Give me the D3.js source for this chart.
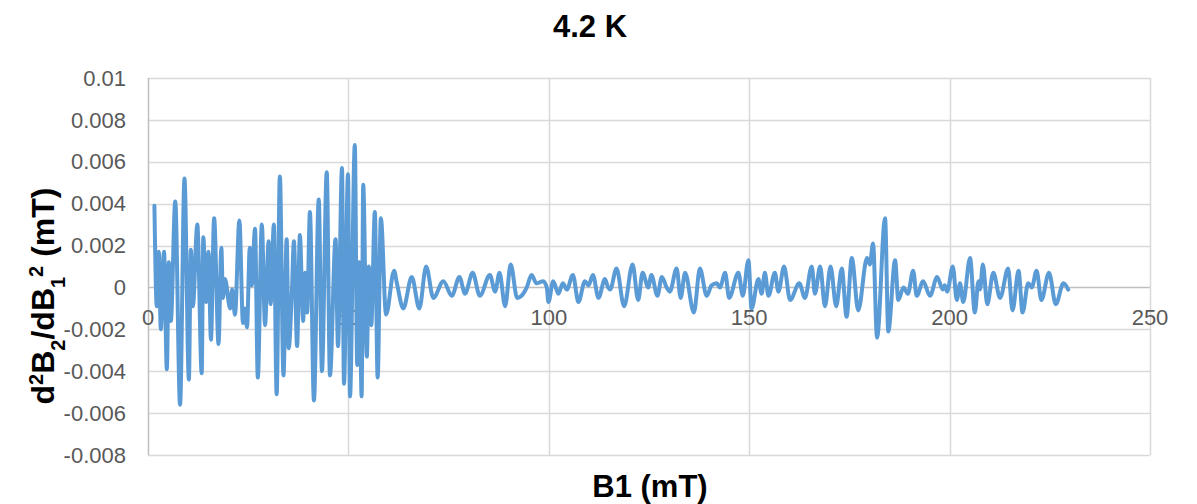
<!DOCTYPE html>
<html>
<head>
<meta charset="utf-8">
<script src="https://cdn.jsdelivr.net/npm/d3@7"></script>
<style>
  html, body { margin: 0; padding: 0; background: #fff; }
  svg { display: block; font-family: "Liberation Sans", Arial, sans-serif; }
</style>
</head>
<body>
<svg id="chart" width="1197" height="504"></svg>
<script>
const chartTitle = "4.2 K";
const xTicks = [0, 50, 100, 150, 200, 250];
const yTicks = [-0.008, -0.006, -0.004, -0.002, 0, 0.002, 0.004, 0.006, 0.008, 0.01];
const yTickLabels = ["-0.008", "-0.006", "-0.004", "-0.002", "0", "0.002", "0.004", "0.006", "0.008", "0.01"];

// B1 (mT)
const b1 = [
  1.6, 2.2, 2.7, 3.2, 4.0, 4.7, 5.2, 5.7, 6.8, 8.0, 9.1, 10.2, 10.7, 11.2, 12.3, 13.4, 13.8, 14.5, 15.1, 15.7,
  16.5, 17.6, 18.3, 18.7, 19.2, 20.5, 21.0, 21.7, 22.8, 23.7, 24.2, 24.7, 25.4, 25.9, 26.7, 27.4, 28.4, 29.2, 30.1, 30.6,
  31.4, 32.1, 32.9, 33.8, 34.6, 35.1, 35.9, 36.4, 37.2, 37.9, 38.7, 39.2, 39.7, 40.4, 41.4, 42.6, 43.4, 44.6, 45.4, 46.8,
  47.4, 48.4, 48.9, 49.9, 50.4, 51.6, 52.2, 52.7, 53.3, 53.7, 54.6, 55.1, 55.7, 56.6, 57.3, 58.1, 59.4, 61.4, 62.1, 63.7,
  65.8, 67.7, 69.4, 71.2, 73.7, 75.8, 77.7, 79.1, 81.0, 82.8, 85.3, 86.6, 87.7, 89.1, 90.5, 92.1, 93.2, 94.5, 95.7, 96.9,
  98.6, 99.5, 99.9, 101.1, 102.4, 103.5, 104.5, 106.0, 107.4, 109.0, 109.9, 111.0, 112.4, 114.0, 114.8, 115.3, 116.9, 118.8, 120.9, 122.3,
  123.4, 124.8, 125.6, 127.1, 128.2, 129.4, 130.2, 131.9, 132.9, 134.0, 136.2, 137.7, 139.4, 140.6, 141.9, 142.7, 144.0, 145.0, 147.3, 148.4,
  149.8, 150.6, 152.3, 153.1, 153.9, 154.8, 156.4, 157.3, 158.7, 160.2, 162.5, 163.9, 165.6, 166.4, 167.7, 168.9, 170.3, 171.7, 173.1, 174.3,
  175.6, 177.2, 179.4, 180.1, 180.9, 181.9, 183.9, 184.7, 186.4, 187.2, 188.5, 189.6, 190.9, 191.8, 193.4, 195.1, 196.9, 198.3, 198.8, 199.4,
  200.8, 201.8, 202.6, 203.4, 205.1, 206.3, 207.2, 207.6, 208.3, 209.4, 210.9, 212.6, 214.6, 215.7, 217.2, 218.2, 219.6, 220.5, 221.7, 222.9,
  224.8, 226.5, 228.4, 229.6
];
// d2B2/dB1^2 (mT)
const d2b = [
  0.0039, -0.0009, 0.0017, -0.0020, 0.0017, -0.0039, 0.0012, -0.0016, 0.0041, -0.0056, 0.0052, -0.0044, 0.0018, -0.0009, 0.0030, -0.0041, 0.0024, -0.0007, 0.0017, -0.0025,
  0.0033, -0.0027, 0.0019, -0.0005, 0.0004, -0.0010, -0.0001, -0.0013, 0.0032, -0.0017, -0.0010, -0.0019, 0.0019, 0.0001, 0.0028, -0.0043, 0.0030, -0.0018, 0.0022, -0.0008,
  0.0030, -0.0051, 0.0053, -0.0042, 0.0023, -0.0029, -0.0002, 0.0022, -0.0028, 0.0025, -0.0016, 0.0007, -0.0012, 0.0036, -0.0054, 0.0042, -0.0040, 0.0055, -0.0042, 0.0023,
  -0.0028, 0.0057, -0.0046, 0.0054, -0.0052, 0.0068, -0.0037, 0.0012, -0.0052, 0.0049, -0.0033, 0.0010, -0.0018, 0.0036, -0.0043, 0.0033, -0.0013, 0.0008, 0.0002, -0.0010,
  0.0005, -0.0010, 0.0010, -0.0005, 0.0003, -0.0004, 0.0005, -0.0003, 0.0007, -0.0004, 0.0006, -0.0002, 0.0007, -0.0009, 0.0011, -0.0005, -0.0004, 0.0000, 0.0006, 0.0002,
  0.0003, 0.0000, -0.0007, 0.0003, -0.0003, 0.0002, -0.0001, 0.0006, -0.0007, 0.0003, 0.0001, 0.0006, -0.0005, 0.0004, 0.0000, -0.0001, 0.0009, -0.0009, 0.0011, -0.0006,
  0.0007, 0.0000, 0.0006, -0.0004, 0.0005, 0.0000, -0.0002, 0.0009, -0.0005, 0.0007, -0.0012, 0.0009, -0.0004, 0.0001, 0.0002, 0.0000, 0.0007, -0.0005, 0.0007, -0.0004,
  0.0013, -0.0010, 0.0004, -0.0003, 0.0007, -0.0004, 0.0007, -0.0002, 0.0010, -0.0006, 0.0002, -0.0005, 0.0010, -0.0003, 0.0010, -0.0009, 0.0010, -0.0009, 0.0009, -0.0014,
  0.0014, -0.0011, 0.0014, 0.0011, 0.0021, -0.0024, 0.0033, -0.0021, 0.0013, -0.0006, 0.0000, -0.0003, 0.0008, -0.0004, 0.0003, -0.0004, 0.0005, -0.0001, 0.0001, -0.0002,
  0.0010, -0.0006, 0.0002, -0.0007, 0.0014, -0.0012, 0.0003, -0.0001, 0.0011, -0.0008, 0.0007, -0.0005, 0.0009, -0.0011, 0.0008, -0.0012, 0.0002, 0.0000, 0.0008, -0.0006,
  0.0007, -0.0008, 0.0002, -0.0001
];

const data = b1.map((x, i) => ({ x, y: d2b[i] }));

const svg = d3.select("#chart");
const x = d3.scaleLinear().domain([0, 250]).range([148, 1150]);
const y = d3.scaleLinear().domain([-0.008, 0.01]).range([455, 78]);

const gridColor = "#D9D9D9";
const axisColor = "#BFBFBF";
const labelColor = "#595959";

// horizontal gridlines
svg.append("g").selectAll("line").data(yTicks).join("line")
  .attr("x1", x(0)).attr("x2", x(250))
  .attr("y1", d => Math.round(y(d)) + 0.5).attr("y2", d => Math.round(y(d)) + 0.5)
  .attr("stroke", d => d === 0 ? axisColor : gridColor).attr("stroke-width", 1.5);

// vertical gridlines
svg.append("g").selectAll("line").data(xTicks).join("line")
  .attr("x1", d => Math.round(x(d)) + 0.5).attr("x2", d => Math.round(x(d)) + 0.5)
  .attr("y1", y(0.01)).attr("y2", y(-0.008))
  .attr("stroke", d => d === 0 ? axisColor : gridColor).attr("stroke-width", 1.5);

// y tick labels
svg.append("g").selectAll("text").data(yTicks).join("text")
  .attr("x", 126).attr("y", d => y(d))
  .attr("dy", "0.35em").attr("text-anchor", "end")
  .attr("font-size", 22).attr("fill", labelColor)
  .text((d, i) => yTickLabels[i]);

// x tick labels (axis crosses at 0)
svg.append("g").selectAll("text").data(xTicks).join("text")
  .attr("x", d => x(d)).attr("y", y(0) + 30)
  .attr("dy", "0.35em").attr("text-anchor", "middle")
  .attr("font-size", 22).attr("fill", labelColor)
  .text(d => d);

// line
const line = d3.line().x(d => x(d.x)).y(d => y(d.y)).curve(d3.curveMonotoneX);
svg.append("path").datum(data)
  .attr("d", line)
  .attr("fill", "none").attr("stroke", "#5B9BD5")
  .attr("stroke-width", 4).attr("stroke-linejoin", "round").attr("stroke-linecap", "round");

// title
svg.append("text").attr("x", 590).attr("y", 37)
  .attr("text-anchor", "middle").attr("font-size", 31).attr("font-weight", "bold")
  .attr("fill", "#000").text(chartTitle);

// x axis title
svg.append("text").attr("x", 650).attr("y", 497)
  .attr("text-anchor", "middle").attr("font-size", 31).attr("font-weight", "bold")
  .attr("fill", "#000").text("B1 (mT)");

// y axis title
const yt = svg.append("text")
  .attr("transform", "translate(54,296) rotate(-90)")
  .attr("text-anchor", "middle").attr("font-size", 32).attr("font-weight", "bold")
  .attr("fill", "#000");
yt.append("tspan").text("d");
yt.append("tspan").attr("baseline-shift", "super").attr("font-size", 20).text("2");
yt.append("tspan").text("B");
yt.append("tspan").attr("baseline-shift", "sub").attr("font-size", 20).text("2");
yt.append("tspan").text("/dB");
yt.append("tspan").attr("baseline-shift", "sub").attr("font-size", 20).text("1");
yt.append("tspan").attr("baseline-shift", "super").attr("font-size", 20).text("2");
yt.append("tspan").text(" (mT)");
</script>
</body>
</html>
